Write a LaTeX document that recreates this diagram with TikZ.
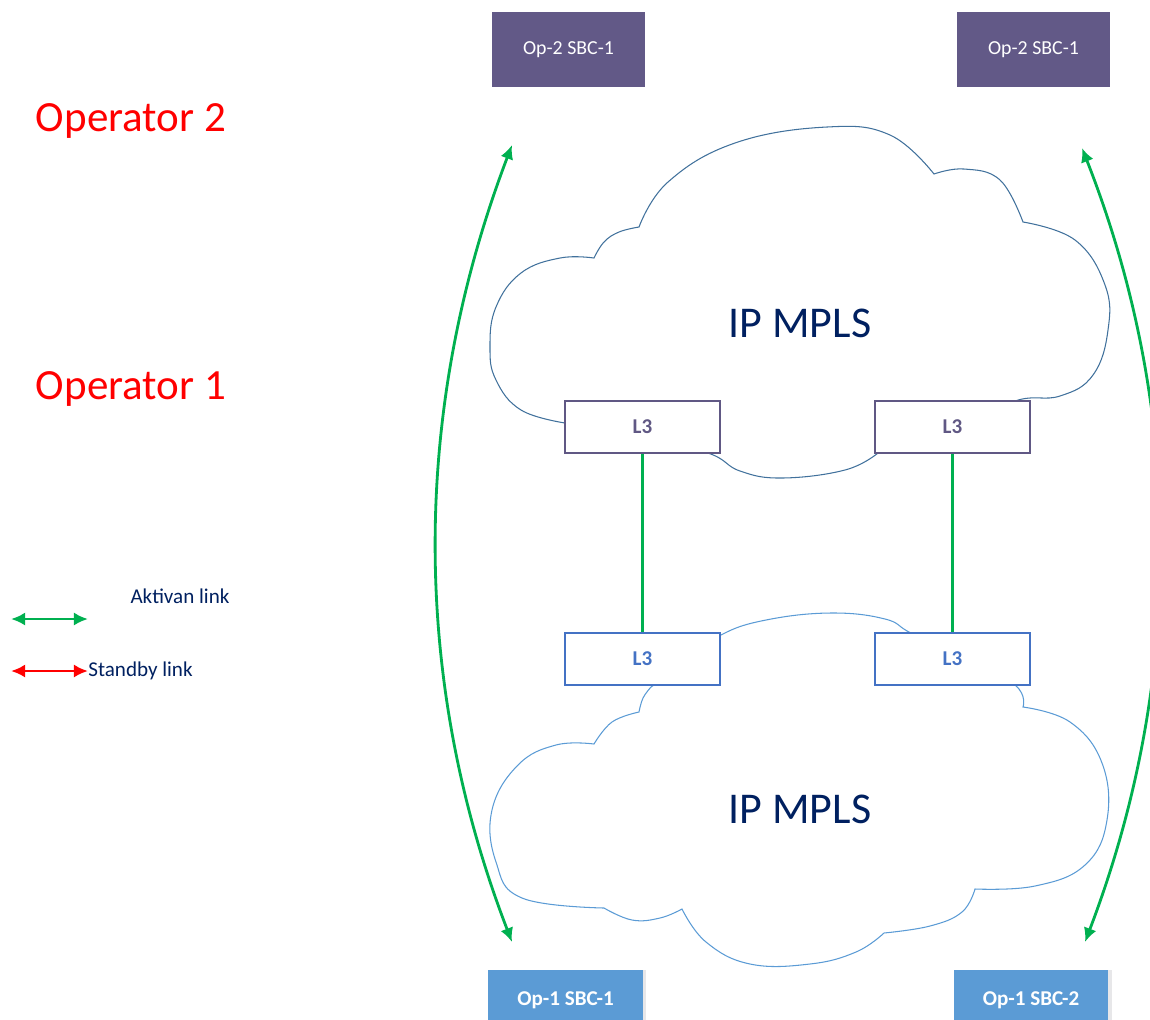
\documentclass[tikz,border=0pt]{standalone}
\usepackage{fontspec}
\setmainfont{Carlito}
\usepackage{tikz}
\usetikzlibrary{positioning,arrows.meta,shadows}
\definecolor{optwofill}{RGB}{98,89,135}
\definecolor{oponefill}{RGB}{91,155,213}
\definecolor{lthreetop}{RGB}{96,88,132}
\definecolor{lthreebot}{RGB}{68,114,196}
\definecolor{cloudtop}{RGB}{65,113,156}
\definecolor{cloudbot}{RGB}{91,155,213}
\definecolor{linkgreen}{RGB}{0,176,80}
\definecolor{navytext}{RGB}{0,32,96}
\tikzset{
  activelink/.style={{Latex[length=8pt,width=7.5pt]}-{Latex[length=8pt,width=7.5pt]}, line width=1.6pt, linkgreen},
  standbylink/.style={{Latex[length=8pt,width=7.5pt]}-{Latex[length=8pt,width=7.5pt]}, line width=1.6pt, red},
  plainlink/.style={line width=1.4pt, linkgreen},
  sbctwo/.style={fill=optwofill, text=white, minimum width=3.06cm, minimum height=1.5cm, inner sep=0pt, font=\fontsize{11.3}{13}\selectfont},
  sbcone/.style={fill=oponefill, text=white, minimum width=3.1cm, minimum height=1.2cm, inner sep=0pt, font=\fontsize{12}{14}\selectfont\bfseries,
    general shadow={fill=blue!6!gray!18, shadow xshift=0.07cm, shadow yshift=0cm}},
  lthreebox/.style={draw, fill=white, line width=0.6pt, minimum width=3.1cm, minimum height=1.04cm, inner sep=0pt, font=\fontsize{12}{14}\selectfont\bfseries},
  cloudline/.style={line width=0.6pt},
  bigtitle/.style={text=red, font=\fontsize{24.5}{28}\selectfont},
  cloudlabel/.style={text=navytext, font=\fontsize{25}{30}\selectfont},
  legendtext/.style={text=navytext, font=\fontsize{12}{14}\selectfont}
}

\begin{document}
\begin{tikzpicture}[x=0.02cm, y=-0.02cm]
  \useasboundingbox (0,0) rectangle (1150,1019);
  \clip (0,0) rectangle (1150,1019);

  % upper cloud
  \draw[cloudline, cloudtop]
    plot[smooth, tension=0.7] coordinates {(565,423) (521,410) (496,380) (490,347) (496,307) (521,273) (560,258) (594,258)}
    -- plot[smooth, tension=0.7] coordinates {(594,258) (604,242) (619,232) (639,227)}
    -- plot[smooth, tension=0.7] coordinates {(639,227) (668,182) (735,143) (827,127) (890,135) (934,174)}
    -- plot[smooth, tension=0.7] coordinates {(934,174) (964,169) (1000,180) (1023,222)}
    -- plot[smooth, tension=0.7] coordinates {(1023,222) (1075,240) (1105,285) (1108,330) (1093,375) (1060,396) (1015,401) (960,430) (878,453)}
    -- plot[smooth, tension=0.7] coordinates {(878,453) (845,470) (782,478) (740,471) (708,453) (640,437) (565,423)};

  % lower cloud
  \draw[cloudline, cloudbot]
    plot[smooth, tension=0.7] coordinates {(651,687) (643,698) (639,712)}
    -- plot[smooth, tension=0.7] coordinates {(639,712) (612,722) (594,744)}
    -- plot[smooth, tension=0.7] coordinates {(594,744) (556,745) (518,765) (492,810) (496,862) (522,898) (604,908)}
    -- plot[smooth, tension=0.7] coordinates {(604,908) (632,920) (660,918) (682,909)}
    -- plot[smooth, tension=0.7] coordinates {(682,909) (706,942) (750,964) (810,964) (856,952) (884,933)}
    -- plot[smooth, tension=0.7] coordinates {(884,933) (930,926) (962,912) (975,889)}
    -- plot[smooth, tension=0.7] coordinates {(975,889) (1035,886) (1085,865) (1107,820) (1102,763) (1070,722) (1023,707)}
    -- plot[smooth, tension=0.7] coordinates {(1023,707) (1015,685) (960,655) (911,633) (885,619) (831,613) (766,620) (721,635) (690,660) (651,687)};

  \node[cloudlabel] (mplstop) at (800,323) {IP MPLS};
  \node[cloudlabel] (mplsbot) at (800,809) {IP MPLS};

  \node[lthreebox, draw=lthreetop, text=lthreetop] (lta) at (642.5,427) {\raisebox{-2pt}{L3}};
  \node[lthreebox, draw=lthreetop, text=lthreetop] (ltb) at (952.5,427) {\raisebox{-2pt}{L3}};
  \node[lthreebox, draw=lthreebot, text=lthreebot] (lba) at (642.5,659) {\raisebox{-2pt}{L3}};
  \node[lthreebox, draw=lthreebot, text=lthreebot] (lbb) at (952.5,659) {\raisebox{-2pt}{L3}};
  \draw[plainlink] (lta.south) -- (lba.north);
  \draw[plainlink] (ltb.south) -- (lbb.north);

  \node[sbctwo] (optwoa) at (568.5,49.5) {Op-2 SBC-1};
  \node[sbctwo] (optwob) at (1033.5,49.5) {Op-2 SBC-1};
  \node[sbcone] (oponea) at (565.5,1000) {Op-1 SBC-1};
  \node[sbcone] (oponeb) at (1031,1000) {Op-1 SBC-2};

  \coordinate (lefttop) at (512,145);
  \coordinate (leftbot) at (512,942);
  \coordinate (righttop) at (1082,148);
  \coordinate (rightbot) at (1085,942);
  \draw[activelink] (lefttop) .. controls (411,410) and (411,680) .. (leftbot);
  \draw[activelink] (righttop) .. controls (1185,410) and (1185,680) .. (rightbot);

  \node[bigtitle] (optwo) at (131,121) {Operator 2};
  \node[bigtitle] (opone) at (131,389) {Operator 1};

  \coordinate (ga) at (11,619);
  \coordinate (gb) at (88,619);
  \coordinate (ra) at (11,671);
  \coordinate (rb) at (88,671);
  \draw[activelink] (ga) -- (gb);
  \draw[standbylink] (ra) -- (rb);
  \node[legendtext] (akt) at (180,596) {Aktivan link};
  \node[legendtext, anchor=west, inner sep=0pt] (stb) at (88,671) {Standby link};
\end{tikzpicture}
\end{document}
